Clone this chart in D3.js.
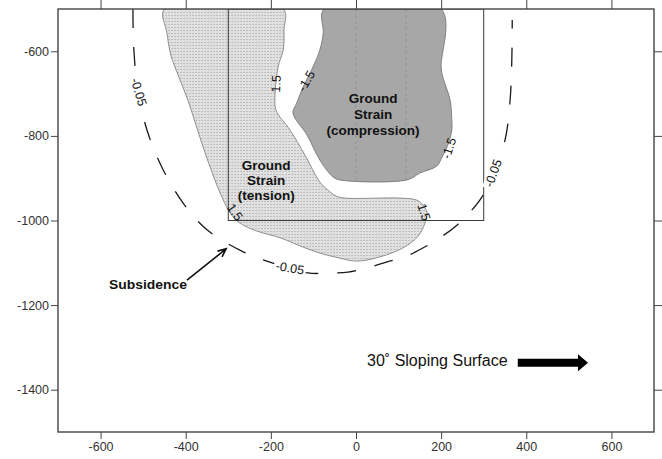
<!DOCTYPE html>
<html><head><meta charset="utf-8">
<script src="https://cdn.jsdelivr.net/npm/d3@7/dist/d3.min.js"></script>
<style>
body{margin:0;background:#fff}
svg{display:block;font-family:Arial,"Liberation Sans",sans-serif}
</style>
</head><body>
<svg id="chart" width="662" height="459"></svg>
<script>
// ---- data (chart units) ----
const xTicks = [-600, -400, -200, 0, 200, 400, 600];
const yTicks = [-600, -800, -1000, -1200, -1400];
const xDomain = [-700, 700];
const yDomain = [-1500, -500];

// panel outline (x range, y range)
const panelX = [-300, 300];
const panelY = [-1000, -500];

// strain +1.5 contour (tension region)
const tension = [[-450,-500],[-444,-557],[-435,-609],[-418,-656],[-395,-715],[-376,-774],[-357,-833],
  [-336,-892],[-317,-940],[-300,-975],[-282,-999],[-261,-1013],[-233,-1025],[-178,-1041],[-124,-1063],
  [-85,-1077],[-38,-1089],[2,-1096],[56,-1086],[110,-1065],[146,-1037],[162,-1006],[167,-982],
  [157,-963],[143,-952],[103,-947],[-26,-947],[-47,-942],[-66,-928],[-85,-909],[-120,-845],
  [-155,-786],[-188,-739],[-190,-699],[-183,-637],[-171,-597],[-169,-550],[-171,-500]];

// strain -1.5 contour (compression region)
const compression = [[-75,-500],[-77,-557],[-85,-597],[-101,-637],[-124,-684],[-139,-722],[-148,-746],
  [-115,-798],[-85,-857],[-54,-897],[-38,-904],[120,-904],[150,-888],[190,-871],[202,-850],
  [216,-821],[225,-786],[225,-762],[221,-715],[204,-661],[200,-637],[200,-500]];
const compressionGrid = [0, 117];

// subsidence -0.05 contour
const subsidence = [[-524,-500],[-522,-592],[-512,-696],[-491,-786],[-456,-874],[-406,-959],
  [-350,-1022],[-265,-1074],[-197,-1100],[-113,-1124],[-61,-1124],[-19,-1122],[26,-1112],[73,-1098],
  [115,-1086],[157,-1065],[197,-1041],[237,-1011],[268,-980],[296,-944],[322,-888],[350,-810],
  [362,-715],[366,-620],[367,-526]];

// contour labels: text, x, y, angle
const contourText  = ["-0.05", "-0.05", "-0.05", "1.5", "-1.5", "-1.5", "1.5", "1.5"];
const contourX     = [-510, -155, 322, -188, -117, 218, 160, -284];
const contourY     = [-696, -1112, -888, -677, -670, -829, -980, -980];
const contourAngle = [73, 10, -70, -88, -60, -72, 72, 55];

// region annotations
const compLines = ["Ground", "Strain", "(compression)"];
const compX = 40, compY = [-722, -760, -798];
const tensLines = ["Ground", "Strain", "(tension)"];
const tensX = -211, tensY = [-881, -917, -952];
const subsLabel = {text: "Subsidence", x: -397, y: -1162};
const subsArrow = {x0: -397, y0: -1141, x1: -305, y1: -1067};
const slopeLabel = {text: "30\u02da Sloping Surface", x: 26, y: -1344};
const slopeArrow = {x0: 380, x1: 545, y: -1336};

// ---- drawing ----
const svg = d3.select("#chart");
const x = d3.scaleLinear(xDomain, [58, 654]);
const y = d3.scaleLinear(yDomain, [432, 9]);

const defs = svg.append("defs");
const pat = defs.append("pattern").attr("id", "dots").attr("width", 3).attr("height", 3)
  .attr("patternUnits", "userSpaceOnUse");
pat.append("rect").attr("width", 3).attr("height", 3).attr("fill", "#e4e4e4");
pat.append("rect").attr("width", 2).attr("height", 1).attr("fill", "#bdbdbd");
pat.append("rect").attr("x", 1.5).attr("y", 1.5).attr("width", 1).attr("height", 1).attr("fill", "#cccccc");

defs.append("clipPath").attr("id", "plotclip").append("rect")
  .attr("x", x(xDomain[0])).attr("y", y(yDomain[1]))
  .attr("width", x(xDomain[1]) - x(xDomain[0])).attr("height", y(yDomain[0]) - y(yDomain[1]));

defs.append("clipPath").attr("id", "compclip").append("path")
  .attr("d", d3.line().x(d => x(d[0])).y(d => y(d[1])).curve(d3.curveCatmullRomClosed.alpha(0.5))(compression));

const plot = svg.append("g").attr("clip-path", "url(#plotclip)");
const smoothClosed = d3.line().x(d => x(d[0])).y(d => y(d[1])).curve(d3.curveCatmullRomClosed.alpha(0.5));

plot.append("path").attr("d", smoothClosed(tension))
  .attr("fill", "url(#dots)").attr("stroke", "#858585").attr("stroke-width", 0.9);

plot.append("path").attr("d", smoothClosed(compression))
  .attr("fill", "#a7a7a7").attr("stroke", "#777").attr("stroke-width", 0.9);

plot.append("g").attr("clip-path", "url(#compclip)").selectAll("line").data(compressionGrid).join("line")
  .attr("x1", d => x(d)).attr("x2", d => x(d)).attr("y1", y(yDomain[1])).attr("y2", y(yDomain[0]))
  .attr("stroke", "#8c8c8c").attr("stroke-width", 0.7).attr("stroke-dasharray", "3,3");

// panel rectangle
plot.append("rect")
  .attr("x", x(panelX[0])).attr("y", y(panelY[1]))
  .attr("width", x(panelX[1]) - x(panelX[0])).attr("height", y(panelY[0]) - y(panelY[1]))
  .attr("fill", "none").attr("stroke", "#3a3a3a").attr("stroke-width", 1);

// subsidence dashed contour
plot.append("path")
  .attr("d", d3.line().x(d => x(d[0])).y(d => y(d[1])).curve(d3.curveCatmullRom.alpha(0.5))(subsidence))
  .attr("fill", "none").attr("stroke", "#1a1a1a").attr("stroke-width", 1.3)
  .attr("stroke-dasharray", "19,19").attr("stroke-dashoffset", 0);

// contour labels
contourText.forEach((t, i) => {
  const g = plot.append("g")
    .attr("transform", `translate(${x(contourX[i])},${y(contourY[i])}) rotate(${contourAngle[i]})`);
  const txt = g.append("text").text(t).attr("text-anchor", "middle").attr("dy", "0.35em")
    .attr("font-size", 12.5).attr("fill", "#111");
  if (t === "-0.05") {
    const b = txt.node().getBBox();
    g.insert("rect", "text").attr("x", b.x - 2).attr("y", b.y + 1).attr("width", b.width + 4)
      .attr("height", b.height - 2).attr("fill", "#fff");
  }
});

// region labels
function stretchText(sel, k) {
  sel.each(function() {
    const w = this.getComputedTextLength();
    d3.select(this).attr("textLength", w * k).attr("lengthAdjust", "spacingAndGlyphs");
  });
}
plot.selectAll(".comp").data(compLines).join("text").attr("class", "comp")
  .attr("x", x(compX)).attr("y", (d, i) => y(compY[i])).attr("text-anchor", "middle")
  .attr("font-size", 12.5).attr("font-weight", "bold").attr("fill", "#111").text(d => d)
  .call(stretchText, 1.08);
plot.selectAll(".tens").data(tensLines).join("text").attr("class", "tens")
  .attr("x", x(tensX)).attr("y", (d, i) => y(tensY[i])).attr("text-anchor", "middle")
  .attr("font-size", 12.5).attr("font-weight", "bold").attr("fill", "#111").text(d => d)
  .call(stretchText, 1.08);

svg.append("text").attr("x", x(subsLabel.x)).attr("y", y(subsLabel.y)).attr("text-anchor", "end")
  .attr("font-size", 13).attr("font-weight", "bold").attr("fill", "#111").text(subsLabel.text)
  .call(stretchText, 1.07);

// subsidence arrow
{
  const ax0 = x(subsArrow.x0), ay0 = y(subsArrow.y0), ax1 = x(subsArrow.x1), ay1 = y(subsArrow.y1);
  const ang = Math.atan2(ay1 - ay0, ax1 - ax0), L = 9, spread = 0.42;
  const p = d3.path();
  p.moveTo(ax0, ay0); p.lineTo(ax1, ay1);
  p.moveTo(ax1 - L * Math.cos(ang - spread), ay1 - L * Math.sin(ang - spread));
  p.lineTo(ax1, ay1);
  p.lineTo(ax1 - L * Math.cos(ang + spread), ay1 - L * Math.sin(ang + spread));
  svg.append("path").attr("d", p.toString()).attr("fill", "none").attr("stroke", "#111")
    .attr("stroke-width", 1.6).attr("stroke-linejoin", "miter");
}

// slope label + arrow
svg.append("text").attr("x", x(slopeLabel.x)).attr("y", y(slopeLabel.y))
  .attr("font-size", 16).attr("fill", "#111").text(slopeLabel.text);
{
  const sx0 = x(slopeArrow.x0), sx1 = x(slopeArrow.x1), sy = y(slopeArrow.y);
  const headLen = 10, shaftH = 4, headH = 8.5;
  const pts = [[sx0, sy - shaftH], [sx1 - headLen, sy - shaftH], [sx1 - headLen, sy - headH], [sx1, sy],
    [sx1 - headLen, sy + headH], [sx1 - headLen, sy + shaftH], [sx0, sy + shaftH]];
  svg.append("path").attr("d", d3.line()(pts) + "Z").attr("fill", "#000");
}

// frame
svg.append("rect").attr("x", x(xDomain[0])).attr("y", y(yDomain[1]))
  .attr("width", x(xDomain[1]) - x(xDomain[0])).attr("height", y(yDomain[0]) - y(yDomain[1]))
  .attr("fill", "none").attr("stroke", "#444").attr("stroke-width", 1.4);

// axes
const fmt = d => String(d);
const styleAxis = g => {
  g.select(".domain").remove();
  g.selectAll(".tick line").attr("stroke", "#444").attr("stroke-width", 1);
  g.selectAll(".tick text").attr("fill", "#333").attr("font-size", 12.5)
    .attr("font-family", "Arial, 'Liberation Sans', sans-serif");
};
svg.append("g").attr("transform", `translate(0,${y(yDomain[0])})`)
  .call(d3.axisBottom(x).tickValues(xTicks).tickFormat(fmt).tickSize(7).tickPadding(3)).call(styleAxis);
svg.append("g").attr("transform", `translate(0,${y(yDomain[1])})`)
  .call(d3.axisTop(x).tickValues(xTicks).tickSize(9).tickFormat("")).call(styleAxis);
svg.append("g").attr("transform", `translate(${x(xDomain[0])},0)`)
  .call(d3.axisLeft(y).tickValues(yTicks).tickFormat(fmt).tickSize(7).tickPadding(2)).call(styleAxis);
svg.append("g").attr("transform", `translate(${x(xDomain[1])},0)`)
  .call(d3.axisRight(y).tickValues(yTicks).tickSize(8).tickFormat("")).call(styleAxis);
</script>
</body></html>
